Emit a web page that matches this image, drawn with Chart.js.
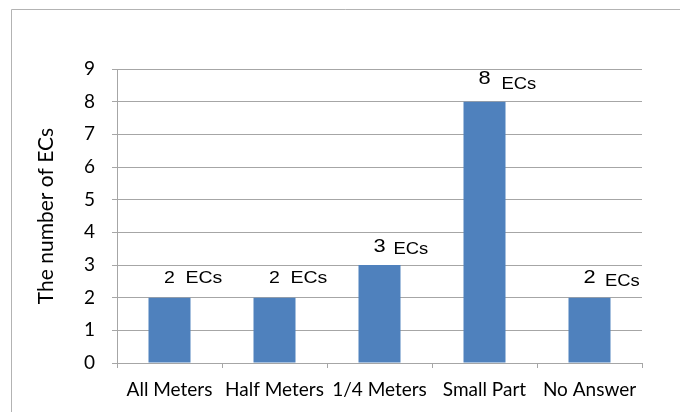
<!DOCTYPE html>
<html>
<head>
<meta charset="utf-8">
<script src="https://cdn.jsdelivr.net/npm/chart.js@4/dist/chart.umd.min.js"></script>
<style>
  html, body { margin: 0; padding: 0; background: #ffffff; }
  #wrap { width: 680px; height: 412px; }
</style>
</head>
<body>
<div id="wrap"><canvas id="chart" width="680" height="412"></canvas></div>
<script>
// Survey answers: how many ECs fall in each group
const categories = ['All Meters', 'Half Meters', '1/4 Meters', 'Small Part', 'No Answer'];
const ecCounts = [2, 2, 3, 8, 2];
const unitText = 'ECs';
const yTicks = [0, 1, 2, 3, 4, 5, 6, 7, 8, 9];

// Look of the value labels above each bar
const labelLook = [
  { numSize: 16, unitSize: 16, stretch: 1.22, unitDx: 16, unitDy: 0, lift: 14.5 },
  { numSize: 16, unitSize: 16, stretch: 1.22, unitDx: 16, unitDy: 0, lift: 14.5 },
  { numSize: 19, unitSize: 16, stretch: 1.15, unitDx: 14, unitDy: 2.6, lift: 13.5 },
  { numSize: 19, unitSize: 16, stretch: 1.15, unitDx: 17, unitDy: 4.5, lift: 17.5 },
  { numSize: 19, unitSize: 16, stretch: 1.15, unitDx: 15.5, unitDy: 2.4, lift: 14.5 }
];

const frame = {
  id: 'frame',
  beforeDraw(chart) {
    const ctx = chart.ctx;
    ctx.save();
    ctx.strokeStyle = '#b3b3b3';
    ctx.lineWidth = 1;
    ctx.beginPath();
    ctx.moveTo(11.5, chart.height);
    ctx.lineTo(11.5, 9.5);
    ctx.lineTo(chart.width, 9.5);
    ctx.stroke();
    ctx.restore();
  }
};

const valueLabels = {
  id: 'valueLabels',
  afterDatasetsDraw(chart) {
    const ctx = chart.ctx;
    const meta = chart.getDatasetMeta(0);
    ctx.save();
    ctx.fillStyle = '#000000';
    ctx.textBaseline = 'alphabetic';
    meta.data.forEach((bar, i) => {
      const look = labelLook[i];
      const base = bar.y - look.lift;
      // number, centred over the bar
      ctx.save();
      ctx.translate(bar.x, base);
      ctx.scale(look.stretch, 1);
      ctx.font = look.numSize + 'px "Liberation Sans", Arial, sans-serif';
      ctx.textAlign = 'center';
      ctx.fillText(String(ecCounts[i]), 0, 0);
      ctx.restore();
      // unit text, to the right of the number
      ctx.save();
      ctx.translate(bar.x + look.unitDx, base + look.unitDy);
      ctx.scale(look.stretch, 1);
      ctx.font = look.unitSize + 'px "Liberation Sans", Arial, sans-serif';
      ctx.textAlign = 'left';
      ctx.fillText(unitText, 0, 0);
      ctx.restore();
    });
    ctx.restore();
  }
};

new Chart(document.getElementById('chart'), {
  type: 'bar',
  data: {
    labels: categories,
    datasets: [{
      data: ecCounts,
      backgroundColor: '#4f81bd',
      borderWidth: 0,
      categoryPercentage: 0.4,
      barPercentage: 1.0
    }]
  },
  options: {
    responsive: false,
    animation: false,
    devicePixelRatio: 1,
    layout: { padding: { top: 69, right: 38, bottom: 0, left: 0 } },
    plugins: {
      legend: { display: false },
      tooltip: { enabled: false }
    },
    scales: {
      x: {
        grid: {
          display: true,
          drawOnChartArea: false,
          drawTicks: true,
          tickLength: 5,
          color: '#a6a6a6',
          offset: true
        },
        border: { display: true, color: '#a6a6a6' },
        ticks: {
          color: '#000000',
          font: { family: 'Lato', size: 19 },
          padding: 10,
          maxRotation: 0,
          autoSkip: false
        },
        afterFit(scale) { scale.height = 49; }
      },
      y: {
        min: 0,
        max: 9,
        afterBuildTicks(scale) { scale.ticks = yTicks.map(v => ({ value: v })); },
        grid: {
          color: '#a6a6a6',
          tickLength: 5,
          drawTicks: true
        },
        border: { display: true, color: '#a6a6a6' },
        ticks: {
          color: '#000000',
          font: { family: 'Lato', size: 19 },
          padding: 17
        },
        title: {
          display: true,
          text: 'The number of ECs',
          color: '#000000',
          font: { family: 'Lato', size: 21, weight: 'normal' },
          padding: { top: 34, bottom: 0 }
        },
        afterFit(scale) { scale.width = 117; }
      }
    }
  },
  plugins: [frame, valueLabels]
});
</script>
</body>
</html>
